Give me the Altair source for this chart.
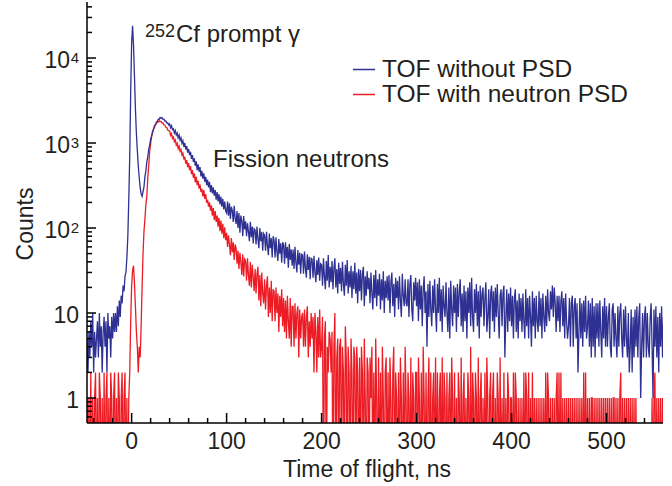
import altair as alt
import pandas as pd

FONT = "Liberation Sans"
BLUE = "#2E3192"
RED = "#ED1C24"
TXT = "#231F20"

T_START = -47  # first 1-ns bin

# ---- TOF without PSD (counts per 1-ns bin) ----
blue_m47_m11 = [5, 2, 6, 3, 8, 4, 10, 2, 6, 3,
                5, 8, 3, 10, 4, 7, 2, 6, 9, 4,
                8, 2, 10, 5, 7, 3, 9, 5, 10, 6,
                10, 6, 12, 7, 14, 9, 16]
blue_m10_39 = [13, 21, 18, 27, 30, 45, 80, 220, 700, 4000,
               15000, 24000, 14000, 6000, 2500, 1300, 820, 540, 390, 300,
               250, 236, 268, 305, 405, 470, 600, 685, 850, 940,
               1120, 1205, 1375, 1430, 1590, 1620, 1770, 1790, 1905, 1890,
               2000, 1960, 1985, 1900, 1905, 1810, 1815, 1720, 1725, 1630]
blue_40_99 = [1680, 1510, 1600, 1440, 1470, 1310, 1400, 1240, 1310, 1150,
              1240, 1080, 1150, 990, 1060, 900, 1000, 840, 920, 770,
              850, 720, 790, 650, 720, 600, 660, 540, 610, 480,
              560, 460, 520, 405, 470, 380, 440, 350, 400, 320,
              370, 300, 350, 265, 320, 255, 300, 240, 280, 215,
              265, 205, 250, 190, 235, 178, 220, 165, 205, 158]
blue_100_199 = [150, 205, 140, 195, 128, 178, 160, 118, 182, 130,
                112, 158, 100, 150, 88, 140, 122, 80, 138, 96,
                120, 80, 114, 90, 70, 118, 78, 104, 66, 98,
                95, 64, 104, 74, 58, 100, 70, 90, 54, 86,
                82, 54, 90, 62, 48, 86, 58, 76, 45, 80,
                72, 45, 78, 52, 41, 74, 50, 66, 39, 68,
                63, 38, 68, 44, 60, 34, 65, 42, 56, 36,
                56, 33, 60, 39, 30, 55, 37, 51, 29, 49,
                48, 29, 53, 34, 26, 49, 32, 46, 25, 44,
                43, 26, 47, 30, 23, 42, 28, 45, 24, 38]
blue_200_299 = [37, 21, 44, 27, 19, 41, 24, 48, 20, 35,
                23, 41, 19, 34, 44, 20, 33, 17, 39, 22,
                34, 18, 40, 22, 16, 37, 21, 42, 17, 31,
                20, 36, 15, 31, 19, 39, 17, 30, 13, 33,
                18, 32, 14, 29, 35, 12, 27, 16, 31, 19,
                26, 13, 30, 17, 11, 28, 15, 32, 12, 25,
                16, 29, 11, 25, 14, 31, 10, 24, 15, 27,
                14, 28, 10, 23, 30, 12, 22, 9, 26, 15,
                24, 11, 27, 14, 9, 29, 16, 12, 25, 13,
                12, 25, 9, 22, 28, 11, 8, 23, 14, 26]
blue_300_399 = [12, 23, 8, 25, 11, 21, 7, 19, 27, 10,
                18, 4, 22, 9, 24, 11, 7, 21, 10, 25,
                11, 6, 22, 10, 26, 8, 19, 6, 21, 12,
                9, 23, 10, 6, 20, 5, 24, 11, 7, 21,
                10, 20, 6, 22, 9, 18, 25, 7, 17, 6,
                21, 8, 18, 5, 20, 10, 23, 7, 26, 9,
                6, 19, 10, 22, 7, 18, 5, 21, 9, 17,
                20, 7, 15, 23, 6, 9, 19, 5, 17, 21,
                8, 18, 6, 20, 9, 22, 10, 5, 16, 19,
                7, 17, 21, 3, 9, 19, 6, 17, 8, 20]
blue_400_499 = [7, 16, 5, 15, 19, 6, 14, 5, 17, 8,
                15, 6, 17, 8, 5, 19, 7, 15, 5, 16,
                9, 4, 18, 7, 15, 5, 16, 8, 6, 18,
                7, 15, 5, 17, 9, 6, 16, 7, 19, 10,
                8, 18, 11, 21, 9, 20, 13, 6, 16, 8,
                16, 6, 14, 18, 7, 15, 5, 17, 8, 5,
                7, 15, 4, 13, 16, 4, 12, 15, 5, 13,
                2, 6, 15, 5, 13, 4, 14, 6, 16, 5,
                7, 14, 4, 13, 3, 15, 4, 12, 3, 13,
                5, 13, 4, 14, 6, 3, 12, 5, 15, 4]
blue_500_560 = [12, 4, 9, 13, 4, 3, 11, 13, 4, 10,
                5, 3, 12, 4, 10, 13, 5, 3, 11, 4,
                12, 5, 3, 10, 2, 4, 11, 2, 9, 3,
                11, 4, 12, 3, 9, 13, 1, 4, 10, 3,
                9, 12, 3, 10, 4, 3, 9, 13, 4, 1,
                11, 4, 12, 3, 9, 2, 10, 4, 12, 3, 9]

# ---- TOF with neutron PSD ----
red_m47_m3 = [1, 0, 1, 0, 2, 0, 1, 0, 1, 2,
              0, 1, 0, 2, 1, 0, 1, 0, 2, 0,
              1, 2, 0, 1, 0, 2, 1, 0, 1, 2,
              0, 1, 0, 2, 1, 0, 1, 2, 0, 1,
              2, 0, 1, 0, 1]
red_m2_39 = [2, 8, 21, 32, 36, 22, 12, 6, 4, 2,
             4, 3, 7, 20, 50, 92, 127, 190, 238, 390,
             545, 800, 975, 1190, 1300, 1470, 1525, 1655, 1680, 1770,
             1765, 1830, 1780, 1795, 1720, 1725, 1630, 1620, 1530, 1520,
             1420, 1400]
red_40_99 = [1390, 1230, 1290, 1130, 1180, 1040, 1090, 940, 990, 860,
             920, 800, 840, 720, 760, 640, 690, 570, 630, 520,
             580, 480, 535, 430, 480, 390, 440, 345, 400, 320,
             360, 290, 325, 265, 290, 235, 280, 220, 250, 198,
             215, 178, 200, 160, 185, 140, 172, 124, 158, 118,
             140, 104, 132, 92, 122, 86, 112, 76, 102, 72]
red_100_199 = [88, 60, 82, 64, 48, 76, 52, 68, 42, 64,
               58, 38, 54, 33, 51, 40, 28, 49, 27, 43,
               41, 24, 44, 28, 21, 40, 20, 37, 26, 18,
               33, 17, 29, 35, 14, 28, 12, 30, 17, 13,
               25, 11, 21, 27, 9, 20, 10, 24, 8, 19,
               18, 8, 20, 10, 17, 6, 16, 9, 19, 7,
               15, 6, 14, 5, 16, 8, 5, 15, 4, 12,
               12, 4, 13, 5, 10, 12, 3, 11, 5, 9,
               10, 4, 11, 4, 9, 12, 3, 8, 4, 10,
               5, 9, 2, 10, 6, 2, 9, 3, 11, 3]
red_200_299 = [4, 9, 0, 5, 8, 0, 4, 2, 6, 5,
               2, 6, 0, 4, 10, 0, 3, 5, 0, 4,
               5, 0, 4, 2, 0, 7, 3, 0, 4, 2,
               0, 5, 2, 0, 4, 3, 0, 4, 2, 0,
               3, 0, 4, 2, 0, 5, 1, 0, 3, 2,
               0, 3, 1, 4, 0, 2, 0, 5, 1, 0,
               3, 0, 2, 0, 4, 1, 0, 2, 3, 0,
               2, 0, 3, 1, 0, 2, 4, 0, 2, 1,
               0, 2, 0, 3, 1, 0, 2, 0, 4, 1,
               0, 2, 1, 0, 3, 0, 2, 1, 0, 2]
red_300_399 = [2, 0, 3, 1, 0, 2, 0, 4, 1, 0,
               2, 0, 1, 3, 0, 2, 0, 1, 2, 0,
               3, 0, 2, 0, 1, 2, 0, 3, 0, 2,
               1, 0, 2, 0, 1, 2, 0, 3, 1, 0,
               2, 0, 1, 0, 2, 1, 0, 3, 0, 1,
               2, 0, 1, 0, 2, 1, 0, 4, 0, 2,
               1, 0, 2, 1, 0, 3, 0, 1, 2, 0,
               1, 0, 2, 0, 3, 1, 0, 1, 2, 0,
               1, 2, 0, 1, 0, 2, 1, 0, 3, 0,
               1, 0, 2, 0, 1, 0, 2, 1, 0, 1]
red_400_499 = [1, 0, 2, 0, 2, 1, 0, 1, 0, 1,
               0, 1, 0, 2, 0, 2, 1, 0, 2, 0,
               1, 0, 2, 0, 1, 0, 1, 0, 1, 0,
               1, 0, 1, 0, 1, 0, 2, 0, 2, 1,
               0, 1, 0, 1, 0, 1, 0, 1, 2, 0,
               2, 0, 2, 0, 1, 0, 1, 0, 1, 0,
               1, 0, 1, 0, 1, 0, 1, 0, 1, 0,
               1, 0, 1, 0, 1, 0, 2, 0, 2, 0,
               1, 0, 1, 0, 1, 1, 0, 1, 0, 1,
               0, 1, 0, 1, 0, 1, 0, 1, 0, 1]
red_500_560 = [0, 1, 0, 1, 0, 1, 0, 1, 1, 0,
               1, 0, 1, 0, 1, 2, 0, 1, 0, 1,
               0, 1, 0, 1, 0, 1, 0, 1, 0, 1,
               0, 1, 0, 0, 0, 0, 0, 0, 0, 0,
               0, 0, 0, 0, 0, 0, 0, 0, 1, 0,
               1, 2, 0, 1, 0, 1, 0, 1, 0, 1, 0]

blue_counts = (blue_m47_m11 + blue_m10_39 + blue_40_99 + blue_100_199 +
               blue_200_299 + blue_300_399 + blue_400_499 + blue_500_560)
red_counts = (red_m47_m3 + red_m2_39 + red_40_99 + red_100_199 +
              red_200_299 + red_300_399 + red_400_499 + red_500_560)

times = list(range(T_START, T_START + len(blue_counts)))

# axis ticks / labels
x_major = [0, 100, 200, 300, 400, 500]
x_minor = [v for v in range(-40, 560, 20) if v % 100 != 0]
x_labels = ["0", "100", "200", "300", "400", "500"]
y_major = [1, 10, 100, 1000, 10000]
y_minor = [k * 10.0 ** e for e in range(-1, 5) for k in range(2, 10)
           if 0.508 <= k * 10.0 ** e <= 44400]

W, H = 576, 420
xscale = alt.Scale(domain=[-47, 559.5], nice=False, zero=False)
yscale = alt.Scale(type="log", domain=[0.508, 44400], nice=False)


def series_line(counts, color):
    df = pd.DataFrame({"t": times, "c": counts})
    return (alt.Chart(df)
            .transform_calculate(cp="datum.c > 0 ? datum.c : 0.05")
            .mark_line(color=color, strokeWidth=1.3, clip=True)
            .encode(x=alt.X("t:Q", scale=xscale, axis=None),
                    y=alt.Y("cp:Q", scale=yscale, axis=None)))


red_line = series_line(red_counts, RED)
blue_line = series_line(blue_counts, BLUE)

one = pd.DataFrame({"a": [0]})

axis_left = alt.Chart(one).mark_rule(color="black", strokeWidth=1.5).encode(
    x=alt.value(0), y=alt.value(-1), y2=alt.value(H))
axis_bottom = alt.Chart(one).mark_rule(color="black", strokeWidth=1.5).encode(
    y=alt.value(H), x=alt.value(0), x2=alt.value(W))

xt_major = alt.Chart(pd.DataFrame({"v": x_major})).mark_rule(
    color="black", strokeWidth=1.5).encode(
    x=alt.X("v:Q", scale=xscale, axis=None), y=alt.value(H), y2=alt.value(H - 10))
xt_minor = alt.Chart(pd.DataFrame({"v": x_minor})).mark_rule(
    color="black", strokeWidth=1.5).encode(
    x=alt.X("v:Q", scale=xscale, axis=None), y=alt.value(H), y2=alt.value(H - 5))
yt_major = alt.Chart(pd.DataFrame({"v": y_major})).mark_rule(
    color="black", strokeWidth=1.5).encode(
    y=alt.Y("v:Q", scale=yscale, axis=None), x=alt.value(0), x2=alt.value(9))
yt_minor = alt.Chart(pd.DataFrame({"v": y_minor})).mark_rule(
    color="black", strokeWidth=1.5).encode(
    y=alt.Y("v:Q", scale=yscale, axis=None), x=alt.value(0), x2=alt.value(5))

x_lab = alt.Chart(pd.DataFrame({"v": x_major, "l": x_labels})).mark_text(
    font=FONT, fontSize=23, color=TXT, align="center", baseline="alphabetic").encode(
    x=alt.X("v:Q", scale=xscale, axis=None), y=alt.value(H + 26), text="l:N")

y_lab_plain = alt.Chart(pd.DataFrame({"v": [1, 10], "l": ["1", "10"]})).mark_text(
    font=FONT, fontSize=23, color=TXT, align="right", baseline="alphabetic", dy=10).encode(
    y=alt.Y("v:Q", scale=yscale, axis=None), x=alt.value(-8), text="l:N")
y_lab_base = alt.Chart(pd.DataFrame({"v": [100, 1000, 10000]})).mark_text(
    font=FONT, fontSize=23, color=TXT, align="right", baseline="alphabetic", dy=10,
    text="10").encode(
    y=alt.Y("v:Q", scale=yscale, axis=None), x=alt.value(-17))
y_lab_exp = alt.Chart(pd.DataFrame({"v": [100, 1000, 10000], "l": ["2", "3", "4"]})).mark_text(
    font=FONT, fontSize=15, color=TXT, align="right", baseline="alphabetic", dy=5).encode(
    y=alt.Y("v:Q", scale=yscale, axis=None), x=alt.value(-8), text="l:N")


def label(text, x, y, size=23, align="left", angle=0):
    kw = dict(font=FONT, fontSize=size, color=TXT, align=align,
              baseline="alphabetic", text=text)
    if angle:
        kw["angle"] = angle
    return alt.Chart(one).mark_text(**kw).encode(x=alt.value(x), y=alt.value(y))


x_title = label("Time of flight, ns", 280, H + 54, align="center")
y_title = label("Counts", -54, 221, align="center", angle=270)
ann_sup = label("252", 58, 34, size=18)
ann_cf = label("Cf prompt γ", 89, 39, size=24)
ann_fis = label("Fission neutrons", 126, 164, size=24)

leg_blue = alt.Chart(one).mark_rule(color=BLUE, strokeWidth=1.5).encode(
    x=alt.value(266), x2=alt.value(288), y=alt.value(66.5))
leg_red = alt.Chart(one).mark_rule(color=RED, strokeWidth=1.5).encode(
    x=alt.value(266), x2=alt.value(288), y=alt.value(91.5))
leg_t1 = label("TOF without PSD", 295, 74, size=24.5)
leg_t2 = label("TOF with neutron PSD", 295, 99, size=24.5)

chart = alt.layer(
    red_line, blue_line,
    axis_left, axis_bottom, xt_major, xt_minor, yt_major, yt_minor,
    x_lab, y_lab_plain, y_lab_base, y_lab_exp,
    x_title, y_title, ann_sup, ann_cf, ann_fis,
    leg_blue, leg_red, leg_t1, leg_t2,
).properties(
    width=W, height=H,
    autosize=alt.AutoSizeParams(type="none"),
    padding={"left": 87, "top": 3, "right": 9, "bottom": 63},
).configure_view(stroke=None)

chart.save("out.html", embed_options={"renderer": "svg", "actions": False})
